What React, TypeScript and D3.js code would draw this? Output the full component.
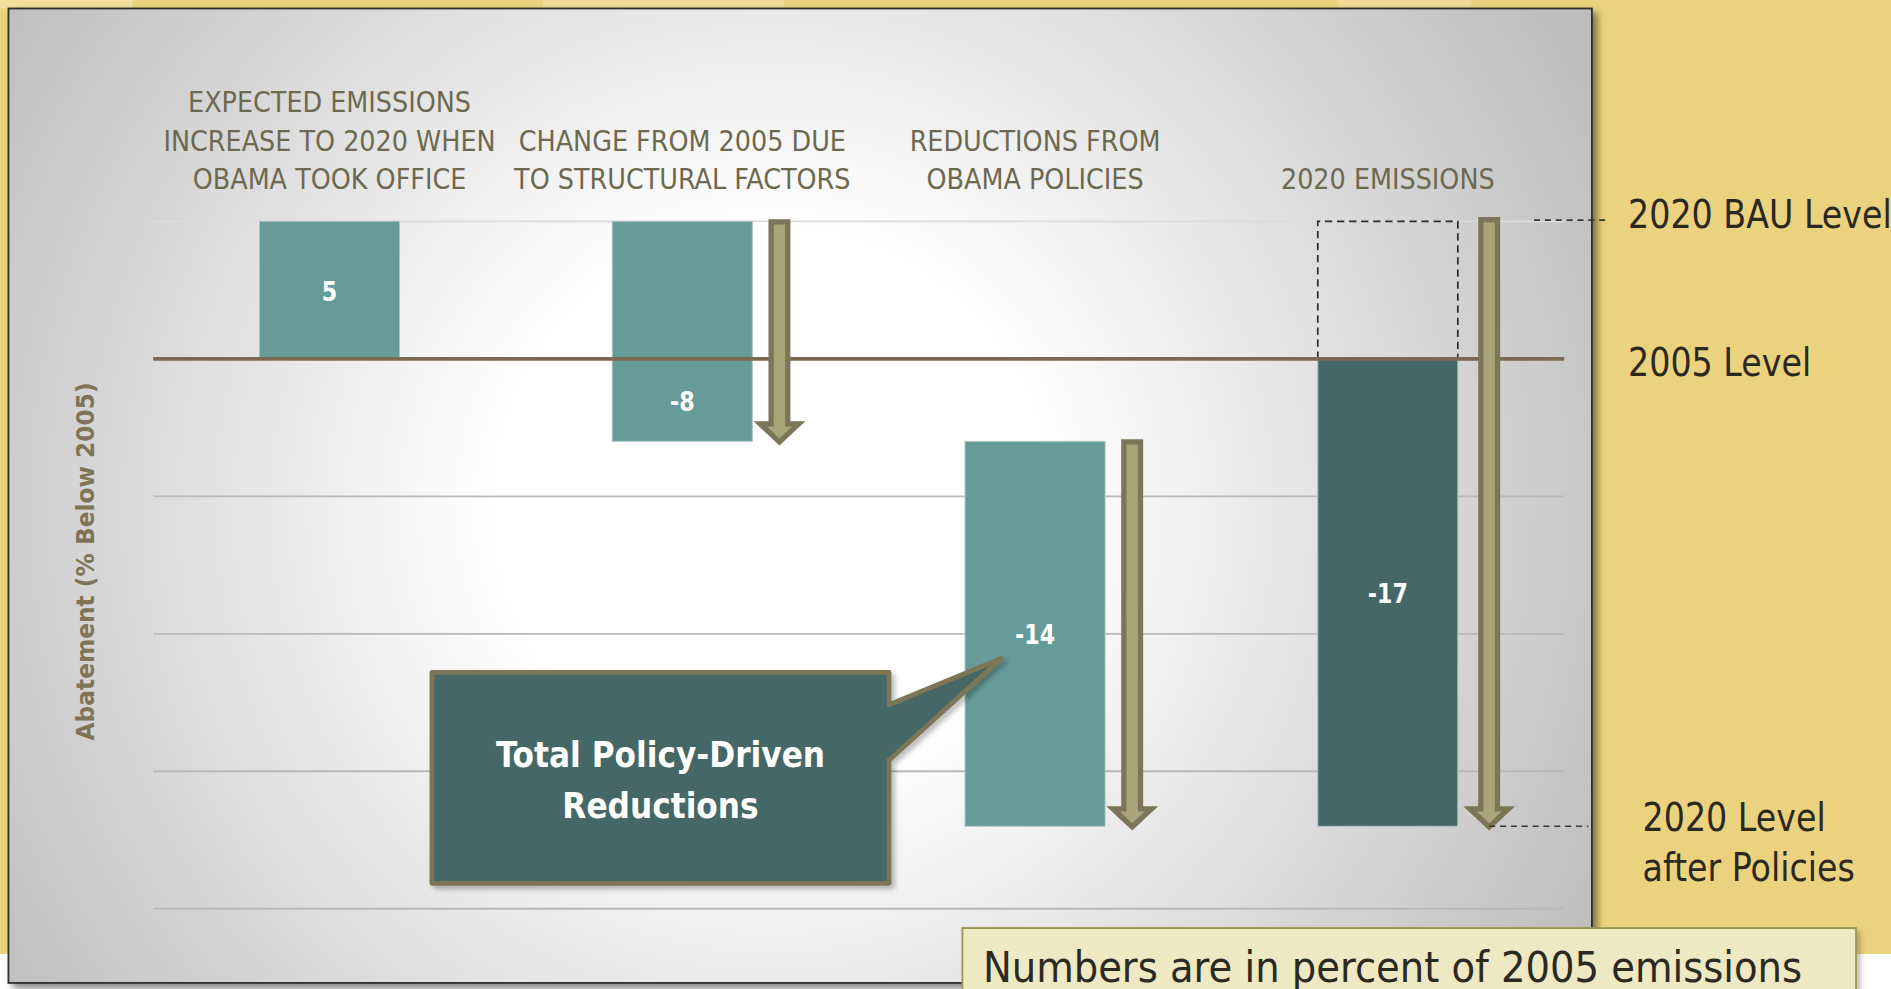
import React from "react";
import * as d3 from "d3";

// ---- data ----
const categories = ["expected", "structural", "policies", "total2020"];
const categoryLines = [
  ["EXPECTED EMISSIONS", "INCREASE TO 2020 WHEN", "OBAMA TOOK OFFICE"],
  ["CHANGE FROM 2005 DUE", "TO STRUCTURAL FACTORS"],
  ["REDUCTIONS FROM", "OBAMA POLICIES"],
  ["2020 EMISSIONS"],
];
const values = [5, -8, -14, -17];
const isTotal = [false, false, false, true];
const hasArrow = [false, true, true, true];
const gridTicks = [5, 0, -5, -10, -15, -20];
const bauLevel = 5;
const levelNames = [["2020 BAU Level"], ["2005 Level"], ["2020 Level", "after Policies"]];
const levelValues = [5, 0, -17];
const yTitle = "Abatement (% Below 2005)";
const calloutLines = ["Total Policy-Driven", "Reductions"];
const noteText = "Numbers are in percent of 2005 emissions";

// ---- layout (viewBox units) ----
const VW = 1568;
const VH = 820;
const plot = { left: 127, right: 1297, top: 183.5, bottom: 753.5 };
const CAL = "'Liberation Sans Narrow', 'DejaVu Sans Condensed', 'Open Sans', sans-serif";

const teal = "#679b99";
const darkTeal = "#456866";
const olive = "#a8a57a";
const oliveDark = "#7b7657";

// text squeezed horizontally so the wide fallback font gets Calibri-like proportions
const SText = ({ x, y, sx = 1, anchor = "start", size, weight = "normal", fill, family = CAL, children }: any) => (
  <g transform={`translate(${x},${y}) scale(${sx},1)`}>
    <text
      textAnchor={anchor}
      dominantBaseline="central"
      fontFamily={family}
      fontWeight={weight}
      fontSize={size}
      fill={fill}
    >
      {children}
    </text>
  </g>
);

export default function App() {
  const x = d3
    .scaleBand<string>()
    .domain(categories)
    .range([plot.left, plot.right])
    .paddingInner(0.603)
    .paddingOuter(0.3015);
  const y = d3.scaleLinear().domain([5, -20]).range([plot.top, plot.bottom]);
  const bw = x.bandwidth();

  // waterfall segments
  let run = 0;
  const bars = values.map((v, i) => {
    let start: number, end: number;
    if (isTotal[i]) {
      start = 0;
      end = v;
    } else {
      start = run;
      end = run + v;
      run = end;
    }
    const labelVal = start > 0 && end < 0 ? end / 2 : (start + end) / 2;
    return { key: categories[i], v, start, end, labelVal, total: isTotal[i], i };
  });

  const arrowPath = (cx: number, y0: number, y1: number) => {
    const sw = 6.9;
    const hw = 16;
    const hh = 15;
    return `M${cx - sw},${y0}L${cx + sw},${y0}L${cx + sw},${y1 - hh}L${cx + hw},${y1 - hh}L${cx},${y1}L${cx - hw},${y1 - hh}L${cx - sw},${y1 - hh}Z`;
  };

  const lastBar = bars[bars.length - 1];
  const lastArrowX = (x(lastBar.key) ?? 0) + bw + 26;

  // callout anchored on the policies bar
  const polX = x(categories[2]) ?? 0;
  const box = { x: polX - 442, y: y(-11.4), w: 379, h: 175 };
  const tip = { x: polX + 30, y: y(-10.9) };
  const bx2 = box.x + box.w;
  const calloutPath =
    `M${box.x},${box.y}H${bx2}V${box.y + 27}L${tip.x},${tip.y}L${bx2},${box.y + 73}` +
    `V${box.y + box.h}H${box.x}Z`;

  return (
    <svg
      width={1891}
      height={989}
      viewBox={`0 0 ${VW} ${VH}`}
      style={{ position: "absolute", left: 0, top: 0, display: "block" }}
    >
      <defs>
        <radialGradient id="panelGrad" gradientUnits="userSpaceOnUse" cx={640} cy={420} r={760}>
          <stop offset="0" stopColor="#ffffff" />
          <stop offset="0.3" stopColor="#ffffff" />
          <stop offset="1" stopColor="#bebebe" />
        </radialGradient>
        <filter id="shadow" x="-5%" y="-5%" width="110%" height="110%">
          <feDropShadow dx="4" dy="4" stdDeviation="3" floodColor="#000" floodOpacity="0.45" />
        </filter>
        <filter id="softShadow" x="-5%" y="-5%" width="110%" height="120%">
          <feDropShadow dx="3" dy="3" stdDeviation="2" floodColor="#000" floodOpacity="0.25" />
        </filter>
      </defs>

      {/* page background */}
      <rect x={0} y={0} width={VW} height={VH} fill="#ffffff" />
      <rect x={0} y={0} width={VW} height={791} fill="#ebd27e" />
      <rect x={0} y={0} width={110} height={7} fill="#f2e1a6" opacity={0.8} />
      <rect x={450} y={0} width={200} height={7} fill="#f1e0a2" opacity={0.7} />
      <rect x={1110} y={0} width={110} height={7} fill="#f1e0a2" opacity={0.6} />

      {/* panel */}
      <rect x={7} y={7} width={1313} height={808} fill="url(#panelGrad)" stroke="#2e2e2a" strokeWidth={1.5} filter="url(#shadow)" />

      {/* gridlines */}
      {gridTicks
        .filter((t) => t !== 0)
        .map((t) => (
          <line
            key={t}
            x1={plot.left}
            x2={plot.right}
            y1={y(t)}
            y2={y(t)}
            stroke={t === 5 ? "#dcdcdc" : "#b9b9b9"}
            strokeWidth={1.5}
          />
        ))}

      {/* y title */}
      <g transform={`translate(71,${(y(5) + y(-20)) / 2 - 3}) rotate(-90) scale(0.92,1)`}>
        <text
          textAnchor="middle"
          dominantBaseline="central"
          fontFamily="'DejaVu Sans', sans-serif"
          fontWeight="bold"
          fontSize={21}
          fill="#7d7556"
        >
          {yTitle}
        </text>
      </g>

      {/* category labels */}
      {categoryLines.map((lines, i) => {
        const cx = (x(categories[i]) ?? 0) + bw / 2;
        return lines.map((ln, j) => (
          <SText
            key={`${i}-${j}`}
            x={cx}
            y={149 - (lines.length - 1 - j) * 32}
            anchor="middle"
            size={23.5}
            fill="#6d6950"
          >
            {ln}
          </SText>
        ));
      })}

      {/* dashed box for BAU on total bar */}
      <path
        d={`M${x(lastBar.key)},${y(0)}V${y(bauLevel)}H${(x(lastBar.key) ?? 0) + bw}V${y(0)}`}
        fill="none"
        stroke="#2d2a20"
        strokeWidth={1.4}
        strokeDasharray="6 4"
      />

      {/* bars */}
      {bars.map((b) => (
        <rect
          key={b.key}
          x={x(b.key)}
          width={bw}
          y={y(Math.max(b.start, b.end))}
          height={Math.abs(y(b.start) - y(b.end))}
          fill={b.total ? darkTeal : teal}
          stroke="#a9c6c4"
          strokeWidth={0.8}
        />
      ))}

      {/* 2005 baseline */}
      <line x1={plot.left} x2={plot.right} y1={y(0)} y2={y(0)} stroke="#7a6a4f" strokeWidth={3.2} />

      {/* value labels */}
      {bars.map((b) => (
        <SText
          key={b.key}
          x={(x(b.key) ?? 0) + bw / 2}
          y={y(b.labelVal) + 1.5}
          anchor="middle"
          size={21.5}
          sx={0.95}
          weight="bold"
          fill="#ffffff"
        >
          {b.v}
        </SText>
      ))}

      {/* arrows */}
      {bars.map((b, i) => {
        if (!hasArrow[i]) return null;
        const cx = (x(b.key) ?? 0) + bw + (b.total ? 26 : 22.5);
        const from = b.total ? bauLevel : b.start;
        return (
          <path
            key={b.key}
            d={arrowPath(cx, y(from) - (b.total ? 1.5 : -0.5), y(b.end) + 0.5)}
            fill={olive}
            stroke={oliveDark}
            strokeWidth={4.4}
            strokeLinejoin="miter"
          />
        );
      })}

      {/* level connectors */}
      <line x1={1272} x2={1334} y1={y(bauLevel) - 1} y2={y(bauLevel) - 1} stroke="#3a372c" strokeWidth={1.4} strokeDasharray="5 4" />
      <line x1={lastArrowX} x2={1317} y1={y(lastBar.end)} y2={y(lastBar.end)} stroke="#3a372c" strokeWidth={1.4} strokeDasharray="5 4" />

      {/* level labels */}
      {levelNames.map((lines, i) => {
        const v = levelValues[i];
        const baseY = i === 0 ? y(v) - 6 : i === 1 ? y(v) + 3 : y(v) - 8;
        const lx = i === 2 ? 1362 : 1350;
        return lines.map((ln, j) => (
          <SText key={`${i}-${j}`} x={lx} y={baseY + j * 42} size={33} sx={0.93} fill="#2a2820">
            {ln}
          </SText>
        ));
      })}

      {/* callout */}
      <path d={calloutPath} fill={darkTeal} stroke={oliveDark} strokeWidth={4} strokeLinejoin="round" filter="url(#softShadow)" />
      {calloutLines.map((ln, j) => (
        <SText
          key={j}
          x={box.x + box.w / 2}
          y={box.y + 68 + j * 42}
          anchor="middle"
          size={30}
          sx={0.96}
          weight="bold"
          fill="#ffffff"
        >
          {ln}
        </SText>
      ))}

      {/* note */}
      <rect x={798} y={769.5} width={741} height={70} fill="#eee8c3" stroke="#9c9552" strokeWidth={1.5} filter="url(#softShadow)" />
      <SText x={815} y={802} size={35} sx={1.015} fill="#2b2a20">
        {noteText}
      </SText>
    </svg>
  );
}
